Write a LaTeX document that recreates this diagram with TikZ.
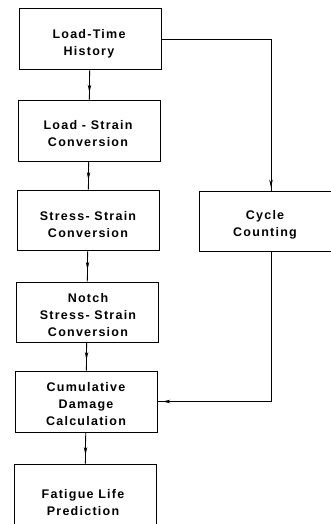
\documentclass[tikz,border=0pt]{standalone}
\usepackage{fontspec}
\setmainfont{Liberation Sans}[LetterSpace=10]
\usetikzlibrary{arrows.meta,decorations.markings}
\tikzset{
  box/.style={draw, line width=0.8pt, minimum width=142pt, minimum height=61pt, inner sep=0pt},
  lbl/.style={align=center, inner sep=0pt, font=\fontsize{12.5}{17}\selectfont\bfseries},
  conn/.style={line width=0.8pt},
  midarrow/.style={postaction={decorate}, decoration={markings, mark=at position #1 with {\arrow{Stealth[length=8pt,width=3.5pt]}}}}
}
\begin{document}
\begin{tikzpicture}[x=1pt,y=-1pt]
\useasboundingbox (0,0) rectangle (331,524);
\clip (0,0) rectangle (331,524);
\fill[white] (0,0) rectangle (331,524);
\node[box] (b1) at (90,39) {};
\node[lbl] (t1) at (89,44) {Load-Time\\History};
\node[box] (b2) at (89,131) {};
\node[lbl] (t2) at (88,134) {Load - Strain\\Conversion};
\node[box, minimum height=60pt] (b3) at (88,220) {};
\node[lbl] (t3) at (88,225) {Stress- Strain\\Conversion};
\node[box, minimum height=60pt] (b4) at (87,312) {};
\node[lbl] (t4) at (88,315) {Notch\\Stress- Strain\\Conversion};
\node[box] (b5) at (86,401.5) {};
\node[lbl] (t5) at (86,404) {Cumulative\\Damage\\Calculation};
\node[box, minimum height=72pt] (b6) at (85,500) {};
\node[lbl] (t6) at (83,503) {Fatigue Life\\Prediction};
\node[box, minimum width=144pt, minimum height=60pt] (cy) at (271,221) {};
\node[lbl] (t7) at (265,225) {Cycle\\Counting};
\draw[conn, midarrow=0.75] (b1) -- (b2);
\draw[conn, midarrow=0.65] (b2) -- (b3);
\draw[conn, midarrow=0.62] (b3) -- (b4);
\draw[conn, midarrow=0.62] (b4) -- (b5);
\draw[conn, midarrow=0.72] (b5) -- (b6);
\draw[conn, midarrow=-3pt] (b1.east) -| (cy.north);
\coordinate (c1) at (cy.south |- b5.east);
\draw[conn, midarrow=-5pt] (cy.south) -- (c1) -- (b5.east);
\end{tikzpicture}
\end{document}
